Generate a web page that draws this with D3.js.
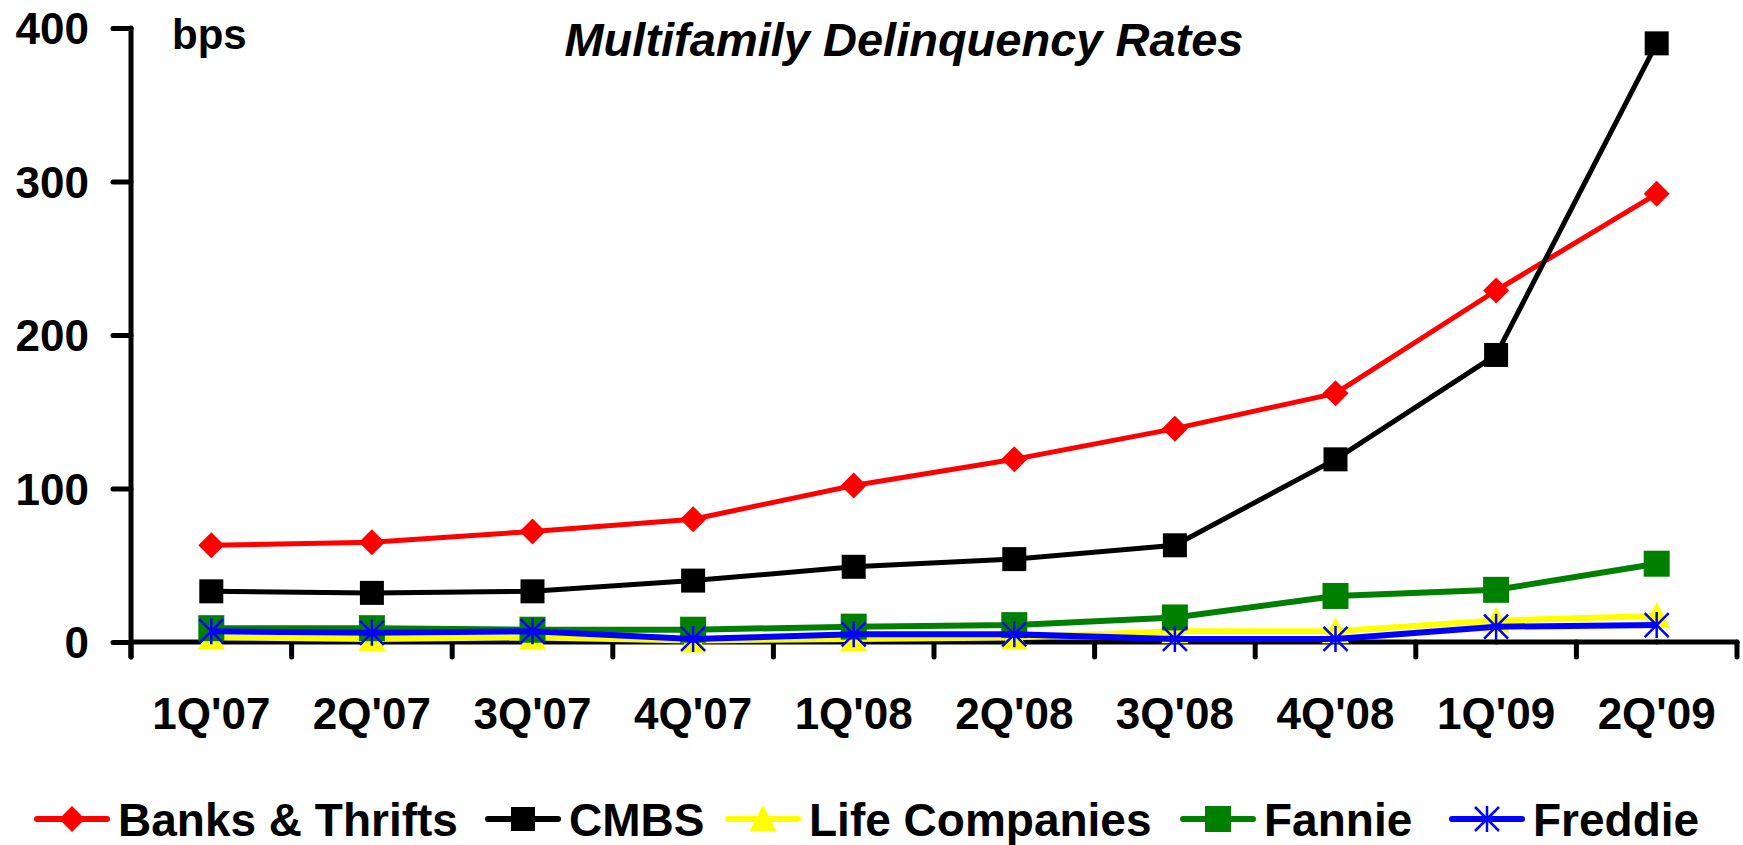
<!DOCTYPE html>
<html>
<head>
<meta charset="utf-8">
<script src="https://cdn.jsdelivr.net/npm/d3@7"></script>
<style>
  html, body { margin: 0; padding: 0; background: #fff; }
  svg { display: block; font-family: "Liberation Sans", Arial, sans-serif; font-weight: bold; }
</style>
</head>
<body>
<div id="chart"></div>
<script>
// quarters on the x axis
const quarters = ["1Q'07", "2Q'07", "3Q'07", "4Q'07", "1Q'08", "2Q'08", "3Q'08", "4Q'08", "1Q'09", "2Q'09"];
const yTicks = [0, 100, 200, 300, 400];

// delinquency rates, bps
const banksThrifts = [63, 65, 72, 80, 102, 119, 139, 162, 229, 292];
const cmbs = [33, 32, 33, 40, 49, 54, 63, 119, 187, 390];
const lifeCompanies = [3, 2, 3, 1, 2, 3, 7, 7, 14, 17];
const fannie = [9, 9, 8, 8, 10, 11, 16, 30, 34, 51];
const freddie = [7, 6, 7, 2, 5, 5, 2, 2, 10, 11];

const seriesNames = ['Banks & Thrifts', 'CMBS', 'Life Companies', 'Fannie', 'Freddie'];

let series = [
  { name: seriesNames[0], values: banksThrifts, color: '#ff0000', marker: 'diamond' },
  { name: seriesNames[1], values: cmbs, color: '#000000', marker: 'square' },
  { name: seriesNames[2], values: lifeCompanies, color: '#ffff00', marker: 'triangle' },
  { name: seriesNames[3], values: fannie, color: '#008000', marker: 'bigsquare' },
  { name: seriesNames[4], values: freddie, color: '#0000ff', marker: 'star' }
];

let config = {
  width: 1743,
  height: 845,
  left: 131,
  right: 1737,
  top: 28,
  bottom: 642,
  lineWidth: 5,
  fontSize: 44,
  legendY: 819,
  legendX: [37, 488, 728, 1183, 1452]
};

let svg = d3.select('#chart').append('svg')
  .attr('width', config.width)
  .attr('height', config.height);

let x = d3.scaleBand()
  .domain(quarters)
  .range([config.left, config.right]);

let y = d3.scaleLinear()
  .domain([0, 400])
  .range([config.bottom, config.top]);

// marker shapes, drawn around (0,0)
let markerPath = (type) => {
  switch (type) {
    case 'diamond': return 'M0,-13L13,0L0,13L-13,0Z';
    case 'square': return 'M-12,-12H12V12H-12Z';
    case 'bigsquare': return 'M-13,-13H13V13H-13Z';
    case 'triangle': return 'M0,-14L13.5,12L-13.5,12Z';
    case 'star': return 'M0,-13V13M-12,-12L12,12M12,-12L-12,12';
  }
};

let drawMarker = (g, s, cx, cy) => {
  let p = g.append('path')
    .attr('d', markerPath(s.marker))
    .attr('transform', `translate(${cx},${cy})`);
  if (s.marker === 'star') {
    p.attr('fill', 'none').attr('stroke', s.color).attr('stroke-width', 2.5);
  } else {
    p.attr('fill', s.color);
  }
};

// axes
let yAxis = d3.axisLeft(y).tickValues(yTicks).tickSize(18).tickPadding(24);
let gy = svg.append('g')
  .attr('transform', `translate(${config.left},0)`)
  .call(yAxis);

let xAxis = d3.axisBottom(x).tickSize(0).tickPadding(56);
let gx = svg.append('g')
  .attr('transform', `translate(0,${config.bottom})`)
  .call(xAxis);

[gx, gy].forEach(g => {
  g.select('.domain').remove();
  g.selectAll('text')
    .attr('fill', '#000')
    .style('font-size', config.fontSize + 'px')
    .style('font-weight', 'bold')
    .style('font-family', '"Liberation Sans", Arial, sans-serif');
  g.selectAll('line').attr('stroke', '#000').attr('stroke-width', config.lineWidth).attr('stroke-linecap', 'round');
});
gy.selectAll('text').attr('dy', '0.36em');
gx.selectAll('text').attr('dy', '0.71em');

// axis lines
svg.append('line')
  .attr('x1', config.left).attr('x2', config.left)
  .attr('y1', y(400)).attr('y2', config.bottom + 15)
  .attr('stroke', '#000').attr('stroke-width', config.lineWidth).attr('stroke-linecap', 'round');
svg.append('line')
  .attr('x1', config.left).attr('x2', config.right)
  .attr('y1', config.bottom).attr('y2', config.bottom)
  .attr('stroke', '#000').attr('stroke-width', config.lineWidth).attr('stroke-linecap', 'round');

// category boundary ticks below the x axis
let bounds = quarters.map(q => x(q)).concat([config.right]);
svg.append('g').selectAll('line')
  .data(bounds)
  .enter().append('line')
  .attr('x1', d => d).attr('x2', d => d)
  .attr('y1', config.bottom).attr('y2', config.bottom + 15)
  .attr('stroke', '#000').attr('stroke-width', config.lineWidth).attr('stroke-linecap', 'round');

// series lines + markers
let line = d3.line()
  .x((d, i) => x(quarters[i]) + x.bandwidth() / 2)
  .y(d => y(d));

series.forEach(s => {
  let g = svg.append('g').attr('class', 'series');
  g.append('path')
    .attr('d', line(s.values))
    .attr('fill', 'none')
    .attr('stroke', s.color)
    .attr('stroke-width', s.marker === 'diamond' || s.marker === 'square' ? 5 : 6)
    .attr('stroke-linejoin', 'round');
  s.values.forEach((v, i) => {
    drawMarker(g, s, x(quarters[i]) + x.bandwidth() / 2, y(v));
  });
});

// titles
svg.append('text')
  .attr('x', 172).attr('y', 49)
  .style('font-size', '42px')
  .text('bps');

svg.append('text')
  .attr('x', 904).attr('y', 56)
  .attr('text-anchor', 'middle')
  .style('font-size', '47px')
  .style('font-style', 'italic')
  .text('Multifamily Delinquency Rates');

// legend
let legend = svg.append('g').attr('class', 'legend');
series.forEach((s, i) => {
  let lx = config.legendX[i];
  let item = legend.append('g');
  item.append('line')
    .attr('x1', lx).attr('x2', lx + 70)
    .attr('y1', config.legendY).attr('y2', config.legendY)
    .attr('stroke', s.color).attr('stroke-width', 6).attr('stroke-linecap', 'round');
  drawMarker(item, s, lx + 35, config.legendY);
  item.append('text')
    .attr('x', lx + 81).attr('y', config.legendY)
    .attr('dy', '0.36em')
    .style('font-size', '46px')
    .text(s.name);
});
</script>
</body>
</html>
